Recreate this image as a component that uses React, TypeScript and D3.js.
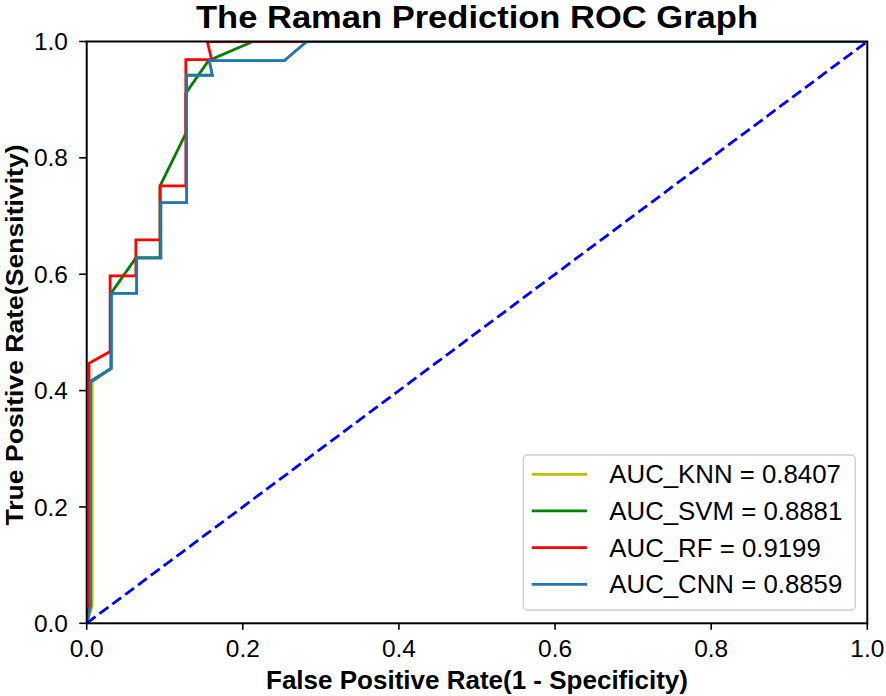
import React from "react";
import * as d3 from "d3";

const W = 886;
const H = 696;

// ROC series (false positive rate / true positive rate)
const knnFpr = [0, 0.007, 0.007, 0.0315, 0.0315, 0.064, 0.064, 0.095, 0.095, 0.128, 0.128, 0.161, 0.157, 0.253, 0.282, 1.0];
const knnTpr = [0, 0.03, 0.415, 0.438, 0.567, 0.567, 0.628, 0.628, 0.723, 0.723, 0.942, 0.942, 0.967, 0.967, 1.0, 1.0];

const svmFpr = [0, 0.004, 0.004, 0.031, 0.031, 0.063, 0.094, 0.094, 0.127, 0.127, 0.156, 0.213, 1.0];
const svmTpr = [0, 0.03, 0.415, 0.438, 0.567, 0.628, 0.628, 0.752, 0.842, 0.911, 0.967, 1.0, 1.0];

const rfFpr = [0, 0.003, 0.003, 0.030, 0.030, 0.063, 0.063, 0.094, 0.094, 0.127, 0.127, 0.160, 0.1545, 1.0];
const rfTpr = [0, 0.03, 0.447, 0.467, 0.597, 0.597, 0.659, 0.659, 0.752, 0.752, 0.969, 0.969, 1.0, 1.0];

const cnnFpr = [0, 0.005, 0.005, 0.0315, 0.0315, 0.064, 0.064, 0.095, 0.095, 0.128, 0.128, 0.161, 0.157, 0.253, 0.282, 1.0];
const cnnTpr = [0, 0.03, 0.415, 0.438, 0.567, 0.567, 0.628, 0.628, 0.723, 0.723, 0.942, 0.942, 0.967, 0.967, 1.0, 1.0];

const diagFpr = [0, 1];
const diagTpr = [0, 1];

const seriesNames = ["AUC_KNN = 0.8407", "AUC_SVM = 0.8881", "AUC_RF = 0.9199", "AUC_CNN = 0.8859"];
const seriesColors = ["#bfbf00", "#008000", "#ff0000", "#1f77b4"];

const xTicks = [0, 0.2, 0.4, 0.6, 0.8, 1.0];
const yTicks = [0, 0.2, 0.4, 0.6, 0.8, 1.0];

const titleText = "The Raman Prediction ROC Graph";
const xLabel = "False Positive Rate(1 - Specificity)";
const yLabel = "True Positive Rate(Sensitivity)";

const FONT = "'Liberation Sans', Arial, Helvetica, sans-serif";

export default function App() {
  const left = 86.7;
  const right = 867.3;
  const top = 41.5;
  const bottom = 623.3;

  const x = d3.scaleLinear().domain([0, 1]).range([left, right]);
  const y = d3.scaleLinear().domain([0, 1]).range([bottom, top]);

  const line = d3
    .line<[number, number]>()
    .x((d) => x(d[0]))
    .y((d) => y(d[1]));

  const zip = (a: number[], b: number[]) => a.map((v, i) => [v, b[i]] as [number, number]);
  const series = [
    zip(knnFpr, knnTpr),
    zip(svmFpr, svmTpr),
    zip(rfFpr, rfTpr),
    zip(cnnFpr, cnnTpr),
  ];

  const legX = 523.3;
  const legY = 455;
  const legW = 332;
  const legH = 155;
  const rowY = [474.3, 510.8, 547.6, 584.3];

  return (
    <svg width={W} height={H} style={{ display: "block", position: "absolute", left: 0, top: 0, background: "#fff" }} fontFamily={FONT}>
      <defs>
        <clipPath id="plotClip">
          <rect x={left} y={top} width={right - left} height={bottom - top} />
        </clipPath>
      </defs>
      <rect x={0} y={0} width={W} height={H} fill="#fff" />

      <g clipPath="url(#plotClip)">
        {series.map((s, i) => (
          <path key={i} d={line(s) || ""} fill="none" stroke={seriesColors[i]} strokeWidth={2.8} strokeLinejoin="miter" />
        ))}
        <path d={line(zip(diagFpr, diagTpr)) || ""} fill="none" stroke="#0000ff" strokeWidth={2.8} strokeDasharray="11,5" />
      </g>

      {/* spines */}
      <rect x={left} y={top} width={right - left} height={bottom - top} fill="none" stroke="#000" strokeWidth={2} />

      {/* x ticks */}
      {xTicks.map((t) => (
        <g key={"x" + t}>
          <line x1={x(t)} x2={x(t)} y1={bottom} y2={bottom + 6.5} stroke="#000" strokeWidth={1.6} />
          <text x={x(t)} y={656.5} textAnchor="middle" fontSize={24.5} fill="#000">
            {t.toFixed(1)}
          </text>
        </g>
      ))}

      {/* y ticks */}
      {yTicks.map((t) => (
        <g key={"y" + t}>
          <line x1={left - 7.5} x2={left} y1={y(t)} y2={y(t)} stroke="#000" strokeWidth={1.6} />
          <text x={68} y={y(t)} dy="0.35em" textAnchor="end" fontSize={24.5} fill="#000">
            {t.toFixed(1)}
          </text>
        </g>
      ))}

      {/* title */}
      <text x={477} y={28.2} textAnchor="middle" fontSize={31} fontWeight="bold" fill="#000" textLength={562} lengthAdjust="spacingAndGlyphs">
        {titleText}
      </text>

      {/* axis labels */}
      <text x={477} y={689.3} textAnchor="middle" fontSize={26} fontWeight="bold" fill="#000">
        {xLabel}
      </text>
      <text transform={`translate(22.5, 335) rotate(-90)`} textAnchor="middle" fontSize={23} fontWeight="bold" fill="#000" textLength={381} lengthAdjust="spacingAndGlyphs">
        {yLabel}
      </text>

      {/* legend */}
      <rect x={legX} y={legY} width={legW} height={legH} rx={4} ry={4} fill="#fff" fillOpacity={0.8} stroke="#cccccc" strokeWidth={1.3} />
      {seriesNames.map((name, i) => (
        <g key={name}>
          <line x1={531.7} x2={587} y1={rowY[i]} y2={rowY[i]} stroke={seriesColors[i]} strokeWidth={2.8} />
          <text x={609.3} y={rowY[i]} dy="0.35em" fontSize={25.8} fill="#000">
            {name}
          </text>
        </g>
      ))}
    </svg>
  );
}
